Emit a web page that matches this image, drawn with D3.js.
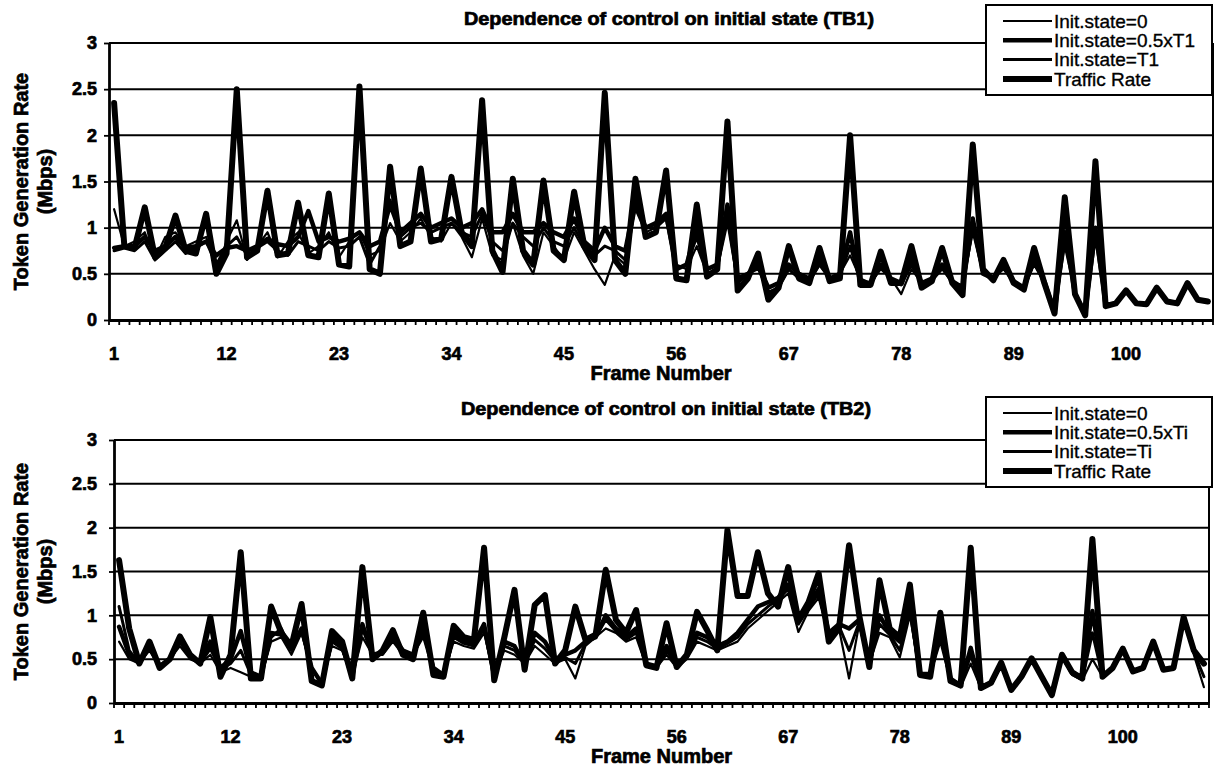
<!DOCTYPE html>
<html>
<head>
<meta charset="utf-8">
<script src="https://cdn.jsdelivr.net/npm/d3@7"></script>
<style>
  body { margin: 0; background: #fff; }
  svg { display: block; font-family: "Liberation Sans", Arial, Helvetica, sans-serif; }
  .heavy { stroke: #000; stroke-width: 0.7px; paint-order: stroke; }
  .medium { stroke: #000; stroke-width: 0.35px; }
</style>
</head>
<body>
<svg id="chart" width="1216" height="769"></svg>
<script>
// frame numbers on the category axis
const frames = d3.range(1, 109);
const yTicks = [0, 0.5, 1, 1.5, 2, 2.5, 3];
const labelFrames = [1, 12, 23, 34, 45, 56, 67, 78, 89, 100];

// ---- TB1 ----
const tb1Init0 = [
  1.20, 0.80, 0.85, 0.95, 0.66, 0.90, 0.95, 0.80, 0.85, 0.90, 0.55, 0.85,
  1.08, 0.65, 0.80, 0.95, 0.68, 0.85, 0.95, 0.72, 0.80, 0.95, 0.68, 0.85,
  0.95, 0.70, 0.75, 1.05, 0.85, 0.95, 1.10, 0.90, 0.85, 1.05, 0.90, 0.68,
  1.10, 0.70, 0.65, 1.05, 0.70, 0.50, 0.95, 0.80, 0.65, 0.95, 0.75, 0.55,
  0.38, 0.70, 0.60, 1.20, 0.95, 1.00, 1.15, 0.60, 0.55, 0.80, 0.50, 0.55,
  1.05, 0.40, 0.50, 0.55, 0.30, 0.35, 0.55, 0.45, 0.40, 0.60, 0.45, 0.50,
  0.70, 0.45, 0.40, 0.55, 0.45, 0.28, 0.55, 0.40, 0.42, 0.55, 0.40, 0.38,
  0.95, 0.50, 0.45, 0.55, 0.40, 0.35, 0.60, 0.40, 0.10, 0.80, 0.30, 0.08,
  0.95, 0.15, 0.18, 0.32, 0.18, 0.17, 0.35, 0.20, 0.18, 0.40, 0.22, 0.20
];
const tb1InitHalf = [
  0.78, 0.80, 0.80, 0.90, 0.75, 0.80, 0.90, 0.78, 0.80, 0.85, 0.70, 0.78,
  0.80, 0.75, 0.80, 0.88, 0.82, 0.80, 0.90, 1.18, 0.85, 0.90, 0.85, 0.88,
  0.95, 0.80, 0.85, 1.25, 0.95, 1.05, 1.15, 1.00, 1.05, 1.10, 1.00, 1.05,
  1.20, 0.95, 0.95, 1.15, 0.95, 0.95, 1.05, 0.95, 0.90, 1.10, 0.85, 0.75,
  1.00, 0.80, 0.75, 1.30, 1.00, 1.05, 1.15, 0.55, 0.60, 1.00, 0.55, 0.60,
  1.25, 0.45, 0.50, 0.60, 0.35, 0.40, 0.60, 0.50, 0.45, 0.65, 0.45, 0.50,
  0.95, 0.40, 0.40, 0.60, 0.45, 0.40, 0.65, 0.40, 0.45, 0.60, 0.42, 0.35,
  1.10, 0.50, 0.45, 0.60, 0.42, 0.35, 0.65, 0.42, 0.08, 0.95, 0.28, 0.06,
  1.00, 0.15, 0.18, 0.32, 0.18, 0.17, 0.35, 0.20, 0.18, 0.40, 0.22, 0.20
];
const tb1InitFull = [
  0.75, 0.78, 0.75, 0.85, 0.65, 0.75, 0.85, 0.72, 0.78, 0.85, 0.60, 0.80,
  0.90, 0.70, 0.78, 0.85, 0.75, 0.70, 0.85, 0.80, 0.75, 0.85, 0.78, 0.80,
  0.90, 0.60, 0.80, 1.30, 0.90, 1.00, 1.05, 0.95, 1.00, 1.05, 0.95, 0.90,
  1.15, 0.85, 0.75, 1.05, 0.90, 0.80, 1.00, 0.85, 0.80, 1.00, 0.80, 0.70,
  0.80, 0.75, 0.65, 1.25, 1.00, 1.00, 1.10, 0.55, 0.60, 0.90, 0.50, 0.55,
  1.15, 0.40, 0.50, 0.58, 0.30, 0.35, 0.55, 0.45, 0.42, 0.60, 0.45, 0.48,
  0.80, 0.42, 0.40, 0.58, 0.45, 0.38, 0.60, 0.40, 0.44, 0.58, 0.40, 0.36,
  1.00, 0.52, 0.45, 0.58, 0.42, 0.35, 0.62, 0.42, 0.09, 0.90, 0.30, 0.07,
  0.90, 0.15, 0.18, 0.32, 0.18, 0.17, 0.35, 0.20, 0.18, 0.40, 0.22, 0.20
];
const tb1Traffic = [
  2.35, 0.80, 0.78, 1.22, 0.68, 0.78, 1.13, 0.75, 0.72, 1.15, 0.50, 0.72,
  2.50, 0.68, 0.75, 1.40, 0.70, 0.72, 1.27, 0.70, 0.68, 1.37, 0.60, 0.58,
  2.53, 0.55, 0.50, 1.66, 0.80, 0.85, 1.64, 0.85, 0.88, 1.55, 0.95, 0.80,
  2.38, 0.75, 0.52, 1.53, 0.75, 0.60, 1.51, 0.75, 0.65, 1.39, 0.80, 0.65,
  2.46, 0.65, 0.50, 1.53, 0.90, 0.95, 1.62, 0.45, 0.43, 1.25, 0.47, 0.55,
  2.15, 0.32, 0.45, 0.72, 0.22, 0.35, 0.80, 0.45, 0.40, 0.78, 0.42, 0.45,
  2.00, 0.38, 0.38, 0.74, 0.40, 0.40, 0.80, 0.35, 0.42, 0.78, 0.40, 0.27,
  1.90, 0.55, 0.43, 0.65, 0.40, 0.33, 0.78, 0.40, 0.07, 1.33, 0.28, 0.05,
  1.72, 0.15, 0.18, 0.32, 0.18, 0.17, 0.35, 0.20, 0.18, 0.40, 0.22, 0.20
];

// ---- TB2 ----
const tb2Init0 = [
  0.70, 0.50, 0.45, 0.60, 0.40, 0.50, 0.65, 0.50, 0.45, 0.55, 0.35, 0.40,
  0.35, 0.30, 0.30, 0.70, 0.75, 0.55, 0.80, 0.38, 0.22, 0.65, 0.60, 0.30,
  0.75, 0.55, 0.55, 0.70, 0.55, 0.55, 0.75, 0.35, 0.32, 0.70, 0.65, 0.62,
  0.80, 0.30, 0.60, 0.55, 0.45, 0.65, 0.55, 0.45, 0.50, 0.28, 0.65, 0.75,
  0.85, 0.80, 0.70, 0.75, 0.42, 0.40, 0.55, 0.40, 0.50, 0.70, 0.65, 0.60,
  0.65, 0.70, 0.85, 0.95, 1.05, 1.15, 1.25, 0.81, 1.05, 1.20, 0.75, 0.85,
  0.28, 0.90, 0.45, 0.80, 0.75, 0.52, 1.00, 0.32, 0.32, 0.70, 0.25, 0.18,
  0.45, 0.17, 0.22, 0.45, 0.15, 0.30, 0.50, 0.30, 0.09, 0.52, 0.32, 0.26,
  0.50, 0.30, 0.40, 0.60, 0.36, 0.40, 0.68, 0.38, 0.40, 0.95, 0.55, 0.18
];
const tb2InitHalf = [
  0.87, 0.55, 0.45, 0.65, 0.42, 0.50, 0.72, 0.55, 0.45, 0.70, 0.40, 0.50,
  0.82, 0.35, 0.30, 0.80, 0.78, 0.62, 0.85, 0.40, 0.22, 0.75, 0.65, 0.30,
  0.90, 0.55, 0.58, 0.75, 0.60, 0.55, 0.85, 0.40, 0.32, 0.80, 0.70, 0.68,
  0.90, 0.30, 0.70, 0.65, 0.45, 0.80, 0.70, 0.50, 0.55, 0.60, 0.70, 0.75,
  1.00, 0.85, 0.75, 0.85, 0.45, 0.42, 0.65, 0.42, 0.55, 0.80, 0.75, 0.65,
  0.70, 0.80, 0.95, 1.10, 1.15, 1.20, 1.35, 0.95, 1.10, 1.30, 0.80, 0.90,
  0.85, 0.95, 0.45, 1.00, 0.80, 0.70, 1.15, 0.33, 0.33, 0.85, 0.28, 0.20,
  0.63, 0.18, 0.23, 0.46, 0.15, 0.30, 0.51, 0.30, 0.09, 0.55, 0.35, 0.28,
  1.05, 0.30, 0.40, 0.62, 0.36, 0.40, 0.70, 0.38, 0.40, 0.98, 0.60, 0.45
];
const tb2InitFull = [
  1.10, 0.60, 0.45, 0.68, 0.40, 0.50, 0.70, 0.52, 0.45, 0.62, 0.38, 0.45,
  0.60, 0.32, 0.30, 0.75, 0.85, 0.60, 0.82, 0.40, 0.22, 0.70, 0.62, 0.30,
  0.85, 0.55, 0.56, 0.72, 0.58, 0.55, 0.80, 0.38, 0.32, 0.75, 0.68, 0.65,
  0.85, 0.28, 0.65, 0.60, 0.45, 0.72, 0.62, 0.48, 0.52, 0.45, 0.68, 0.75,
  0.95, 0.82, 0.72, 0.80, 0.44, 0.40, 0.60, 0.42, 0.52, 0.75, 0.70, 0.62,
  0.68, 0.75, 0.90, 1.00, 1.10, 1.18, 1.30, 0.90, 1.08, 1.25, 0.78, 0.88,
  0.60, 0.92, 0.43, 0.90, 0.78, 0.60, 1.05, 0.32, 0.32, 0.78, 0.26, 0.19,
  0.55, 0.17, 0.22, 0.45, 0.15, 0.30, 0.50, 0.30, 0.09, 0.53, 0.33, 0.27,
  0.80, 0.30, 0.40, 0.61, 0.36, 0.40, 0.69, 0.38, 0.40, 0.96, 0.58, 0.30
];
const tb2Traffic = [
  1.63, 0.85, 0.45, 0.70, 0.40, 0.50, 0.76, 0.55, 0.45, 0.98, 0.30, 0.55,
  1.72, 0.28, 0.28, 1.10, 0.80, 0.65, 1.13, 0.25, 0.20, 0.82, 0.70, 0.28,
  1.55, 0.50, 0.60, 0.83, 0.55, 0.50, 1.03, 0.32, 0.30, 0.88, 0.75, 0.72,
  1.77, 0.26, 0.75, 1.29, 0.38, 1.12, 1.23, 0.45, 0.60, 1.10, 0.72, 0.78,
  1.52, 0.95, 0.80, 1.06, 0.43, 0.40, 0.91, 0.41, 0.55, 1.04, 0.83, 0.60,
  1.97, 1.22, 1.22, 1.72, 1.25, 1.10, 1.55, 0.95, 1.15, 1.48, 0.70, 0.85,
  1.80, 1.00, 0.41, 1.40, 0.85, 0.75, 1.35, 0.32, 0.30, 1.03, 0.25, 0.20,
  1.77, 0.17, 0.23, 0.46, 0.15, 0.30, 0.51, 0.30, 0.09, 0.55, 0.35, 0.28,
  1.87, 0.30, 0.40, 0.62, 0.36, 0.40, 0.70, 0.38, 0.40, 0.98, 0.60, 0.45
];

const tb1Names = ["Init.state=0", "Init.state=0.5xT1", "Init.state=T1", "Traffic Rate"];
const tb2Names = ["Init.state=0", "Init.state=0.5xTi", "Init.state=Ti", "Traffic Rate"];

// line weight per series, same order as the legend
const lineWidths = [2.2, 4.4, 3, 6];

const svg = d3.select("#chart");

function drawPanel(cfg) {
  const g = svg.append("g");

  const x = d3.scaleBand().domain(frames).range([cfg.left, cfg.right]).padding(0);
  const y = d3.scaleLinear().domain([0, 3]).range([cfg.bottom, cfg.top]);
  const cx = d => x(d) + x.bandwidth() / 2;

  // title
  g.append("text")
    .attr("class", "heavy")
    .attr("x", cfg.titleX)
    .attr("y", cfg.titleY)
    .attr("text-anchor", "middle")
    .attr("font-size", 18)
    .attr("font-weight", "bold")
    .attr("textLength", 410)
    .attr("lengthAdjust", "spacingAndGlyphs")
    .text(cfg.title);

  // gridlines
  g.append("g").selectAll("line")
    .data(yTicks)
    .join("line")
    .attr("x1", cfg.left).attr("x2", cfg.right)
    .attr("y1", d => y(d)).attr("y2", d => y(d))
    .attr("stroke", "#000")
    .attr("stroke-width", 2);

  // right border of plot area
  g.append("line")
    .attr("x1", cfg.right).attr("x2", cfg.right)
    .attr("y1", cfg.top).attr("y2", cfg.bottom)
    .attr("stroke", "#000").attr("stroke-width", 2);

  // y axis
  const yAxis = g.append("g")
    .attr("transform", `translate(${cfg.left},0)`)
    .call(d3.axisLeft(y).tickValues(yTicks).tickFormat(d3.format("")).tickSize(5).tickSizeOuter(0).tickPadding(cfg.left - 102));
  yAxis.select(".domain").attr("stroke-width", 2.8);
  yAxis.selectAll(".tick line").attr("stroke-width", 1.8);
  yAxis.selectAll("text")
    .attr("class", "heavy")
    .attr("font-size", 18).attr("font-weight", "bold")
    .attr("font-family", "Liberation Sans, Arial, sans-serif")
    .attr("fill", "#000");

  // x axis with labels every 11 frames
  const xAxis = g.append("g")
    .attr("transform", `translate(0,${cfg.bottom})`)
    .call(d3.axisBottom(x).tickValues(labelFrames).tickSize(0).tickSizeOuter(0).tickPadding(27));
  xAxis.select(".domain").attr("stroke-width", 2.8);
  xAxis.selectAll("text")
    .attr("class", "heavy")
    .attr("font-size", 18).attr("font-weight", "bold")
    .attr("font-family", "Liberation Sans, Arial, sans-serif")
    .attr("fill", "#000");

  // tick marks on the category boundaries
  g.append("g").selectAll("line")
    .data(frames.concat([null]))
    .join("line")
    .attr("x1", d => d === null ? cfg.right : x(d))
    .attr("x2", d => d === null ? cfg.right : x(d))
    .attr("y1", cfg.bottom)
    .attr("y2", cfg.bottom + 5)
    .attr("stroke", "#000")
    .attr("stroke-width", 1.8);

  // axis titles
  g.append("text")
    .attr("class", "heavy")
    .attr("x", (cfg.left + cfg.right) / 2)
    .attr("y", cfg.bottom + 60)
    .attr("text-anchor", "middle")
    .attr("font-size", 20)
    .attr("font-weight", "bold")
    .text("Frame Number");

  const yTitle = g.append("text")
    .attr("class", "heavy")
    .attr("transform", `translate(0,${(cfg.top + cfg.bottom) / 2}) rotate(-90)`)
    .attr("text-anchor", "middle")
    .attr("font-size", 20)
    .attr("font-weight", "bold");
  yTitle.append("tspan").attr("x", 0).attr("y", 28).text("Token Generation Rate");
  yTitle.append("tspan").attr("x", 0).attr("y", 52).text("(Mbps)");

  // series
  const line = d3.line()
    .x((d, i) => cx(frames[i]))
    .y(d => y(d));

  g.append("g").selectAll("path")
    .data(cfg.series)
    .join("path")
    .attr("d", d => line(d))
    .attr("fill", "none")
    .attr("stroke", "#000")
    .attr("stroke-width", (d, i) => lineWidths[i])
    .attr("stroke-linejoin", "round")
    .attr("stroke-linecap", "round");

  // legend
  const lg = g.append("g").attr("transform", `translate(${cfg.legendX},${cfg.legendY})`);
  lg.append("rect")
    .attr("width", 226).attr("height", 90)
    .attr("fill", "#fff")
    .attr("stroke", "#000")
    .attr("stroke-width", 2);

  const rows = lg.selectAll("g.row")
    .data(cfg.names)
    .join("g")
    .attr("class", "row")
    .attr("transform", (d, i) => `translate(0,${16 + i * 19.3})`);

  rows.append("line")
    .attr("x1", 17).attr("x2", 66)
    .attr("stroke", "#000")
    .attr("stroke-width", (d, i) => lineWidths[i]);

  rows.append("text")
    .attr("class", "medium")
    .attr("x", 68)
    .attr("dy", "0.36em")
    .attr("font-size", 19)
    .text(d => d);
}

drawPanel({
  title: "Dependence of control on initial state (TB1)",
  names: tb1Names,
  series: [tb1Init0, tb1InitHalf, tb1InitFull, tb1Traffic],
  left: 109, right: 1213, top: 43, bottom: 320,
  titleX: 669, titleY: 25,
  legendX: 986, legendY: 5
});

drawPanel({
  title: "Dependence of control on initial state (TB2)",
  names: tb2Names,
  series: [tb2Init0, tb2InitHalf, tb2InitFull, tb2Traffic],
  left: 114, right: 1209, top: 440, bottom: 703,
  titleX: 666, titleY: 415,
  legendX: 986, legendY: 397
});
</script>
</body>
</html>
